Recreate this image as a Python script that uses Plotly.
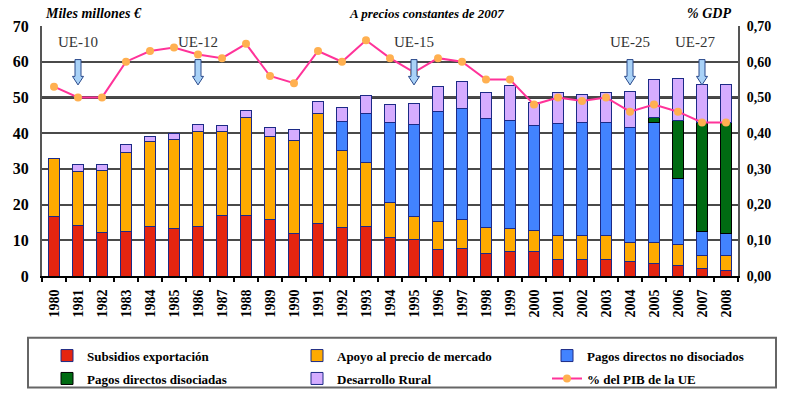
import plotly.graph_objects as go

years = [str(y) for y in range(1980, 2009)]
subsidios = [16.8, 14.1, 12.3, 12.5, 13.9, 13.3, 13.9, 17.0, 17.0, 15.9, 12.0, 14.8, 13.5, 13.9,
             10.8, 10.2, 7.5, 7.6, 6.2, 6.9, 6.9, 4.5, 4.5, 4.5, 4.2, 3.6, 2.9, 2.0, 1.5]
apoyo = [16.1, 15.1, 17.2, 22.2, 23.7, 24.9, 26.7, 23.4, 27.4, 23.2, 26.0, 30.6, 21.7, 17.9,
         9.9, 6.6, 7.9, 8.3, 7.5, 6.3, 5.9, 6.8, 6.8, 6.8, 5.3, 5.7, 5.8, 3.8, 4.3]
no_disociados = [None] * 12 + [8.0, 13.8, 22.3, 25.7, 30.6, 31.0, 30.4, 30.3, 29.4, 31.5, 31.7,
                               31.7, 32.0, 33.7, 18.5, 6.6, 6.2]
disociados = [None] * 25 + [1.5, 16.4, 30.6, 31.0]
desarrollo = [None, 1.9, 1.6, 2.0, 1.4, 1.8, 1.7, 1.8, 2.0, 2.4, 3.0, 3.5, 4.0, 4.9, 4.9, 5.8,
              7.1, 7.5, 7.3, 9.8, 6.5, 8.7, 7.9, 8.3, 10.3, 10.5, 11.6, 10.5, 10.5]
pib_pct = [0.53, 0.50, 0.50, 0.60, 0.63, 0.64, 0.62, 0.61, 0.65, 0.56, 0.54, 0.63, 0.60, 0.66,
           0.61, 0.57, 0.61, 0.60, 0.55, 0.55, 0.48, 0.50, 0.49, 0.50, 0.46, 0.48, 0.46, 0.43, 0.43]
ampliaciones = ["UE-10", "UE-12", "UE-15", "UE-25", "UE-27"]
ampliacion_anos = ["1981", "1986", "1995", "2004", "2007"]
right_ticks = [0, 0.1, 0.2, 0.3, 0.4, 0.5, 0.6, 0.7]

SERIF = "Liberation Serif"
OUTLINE = "#1c2a86"

# plot area in page pixels
PL, PR, PT, PB = 42, 738, 26, 293
PW, PH = PR - PL, PB - PT

def px_x(x):
    return (x - PL) / PW

def px_y(y):
    return (PB - y) / PH

fig = go.Figure()

def add_bar(name, vals, color, legend, line_color=OUTLINE):
    fig.add_trace(go.Bar(
        x=years, y=vals, name=name, legend=legend, legendgroup=name,
        marker=dict(color=color, line=dict(color=line_color, width=1)),
        yaxis="y",
    ))

add_bar("Subsidios exportación", subsidios, "#e52510", "legend")
add_bar("Apoyo al precio de mercado", apoyo, "#ffaa00", "legend2")
add_bar("Pagos directos no disociados", no_disociados, "#4283ff", "legend3")
add_bar("Pagos directos disociadas", disociados, "#006b12", "legend", "#000000")
add_bar("Desarrollo Rural", desarrollo, "#d5acff", "legend2")

fig.add_trace(go.Scatter(
    x=years, y=pib_pct, name="% del PIB de la UE", yaxis="y2", legend="legend3",
    legendgroup="pib",
    mode="lines+markers",
    line=dict(color="#ff3399", width=2),
    marker=dict(color="#ffb050", size=8),
))

shapes = []
annotations = []
for lab, yr in zip(ampliaciones, ampliacion_anos):
    i = years.index(yr)
    sw, hw = 0.125, 0.23
    y_top, y_neck, y_tip = 60.6, 55.9, 53.5
    path = (f"M {i-sw} {y_top} L {i+sw} {y_top} L {i+sw} {y_neck} L {i+hw} {y_neck} "
            f"L {i} {y_tip} L {i-hw} {y_neck} L {i-sw} {y_neck} Z")
    shapes.append(dict(type="path", path=path, xref="x", yref="y",
                       fillcolor="#a9d2f7", line=dict(color="#2b4a8c", width=1), layer="above"))
    annotations.append(dict(x=i - (0.3 if lab == "UE-27" else 0), y=65.4, xref="x", yref="y",
                            text=lab, showarrow=False,
                            font=dict(family=SERIF, size=15, color="#333333")))

# heavier reference line at 50
shapes.append(dict(type="line", xref="paper", yref="y", x0=0, x1=1, y0=50, y1=50,
                   line=dict(color="#000000", width=2.5), layer="below"))

# legend frame (runs off the bottom edge like the reference)
shapes.append(dict(type="rect", xref="paper", yref="paper",
                   x0=px_x(28), x1=px_x(776), y0=px_y(359), y1=px_y(412),
                   line=dict(color="#666666", width=2), fillcolor="rgba(0,0,0,0)"))

annotations += [
    dict(x=px_x(43), y=px_y(13), xref="paper", yref="paper", xanchor="left",
         yanchor="middle", text="<b><i>Miles millones €</i></b>", showarrow=False,
         font=dict(family=SERIF, size=14, color="#000")),
    dict(x=px_x(426), y=px_y(13), xref="paper", yref="paper", xanchor="center",
         yanchor="middle", text="<b><i>A precios constantes de 2007</i></b>", showarrow=False,
         font=dict(family=SERIF, size=13, color="#000")),
    dict(x=px_x(733), y=px_y(13), xref="paper", yref="paper", xanchor="right",
         yanchor="middle", text="<b><i>% GDP</i></b>", showarrow=False,
         font=dict(family=SERIF, size=14, color="#000")),
]

legend_font = dict(family=SERIF, size=13, color="#000", weight="bold")

def leg(xpx):
    return dict(orientation="v", x=px_x(xpx), y=px_y(362), xanchor="left", yanchor="top",
                borderwidth=0, bgcolor="rgba(0,0,0,0)", font=legend_font,
                traceorder="grouped", tracegroupgap=3)

fig.update_layout(
    width=795, height=405,
    margin=dict(l=PL, r=795 - PR, t=PT, b=405 - PB),
    paper_bgcolor="white", plot_bgcolor="white",
    barmode="stack", bargap=0.555,
    separators=", ",
    shapes=shapes, annotations=annotations,
    font=dict(family=SERIF, color="#000"),
    xaxis=dict(
        type="category", range=[-0.5, 28.5], automargin=False,
        tickangle=-90, tickson="boundaries", ticks="outside", ticklen=4, tickwidth=2,
        tickcolor="#000", showline=True, linecolor="#000", linewidth=2,
        tickfont=dict(family=SERIF, size=14, color="#000", weight="bold"),
        ticklabelstandoff=6, showgrid=False,
    ),
    yaxis=dict(
        range=[0, 70], dtick=10, showgrid=True, gridcolor="#4a4a4a", gridwidth=2,
        showline=True, linecolor="#555", linewidth=2, zeroline=False, automargin=False,
        tickfont=dict(family=SERIF, size=16, color="#000", weight="bold"),
        ticks="", ticklabelstandoff=8,
    ),
    yaxis2=dict(
        overlaying="y", side="right", range=[0, 0.7], tickvals=right_ticks,
        tickformat=".2f", ticksuffix="%", showgrid=False, automargin=False,
        showline=True, linecolor="#555", linewidth=2, zeroline=False,
        tickfont=dict(family=SERIF, size=14, color="#000", weight="bold"),
        ticklabelstandoff=4,
    ),
    legend=leg(47),
    legend2=leg(297),
    legend3=leg(547),
)

fig.write_html("out.html", post_script="document.body.style.margin='0px';",
               config={"displayModeBar": False})
